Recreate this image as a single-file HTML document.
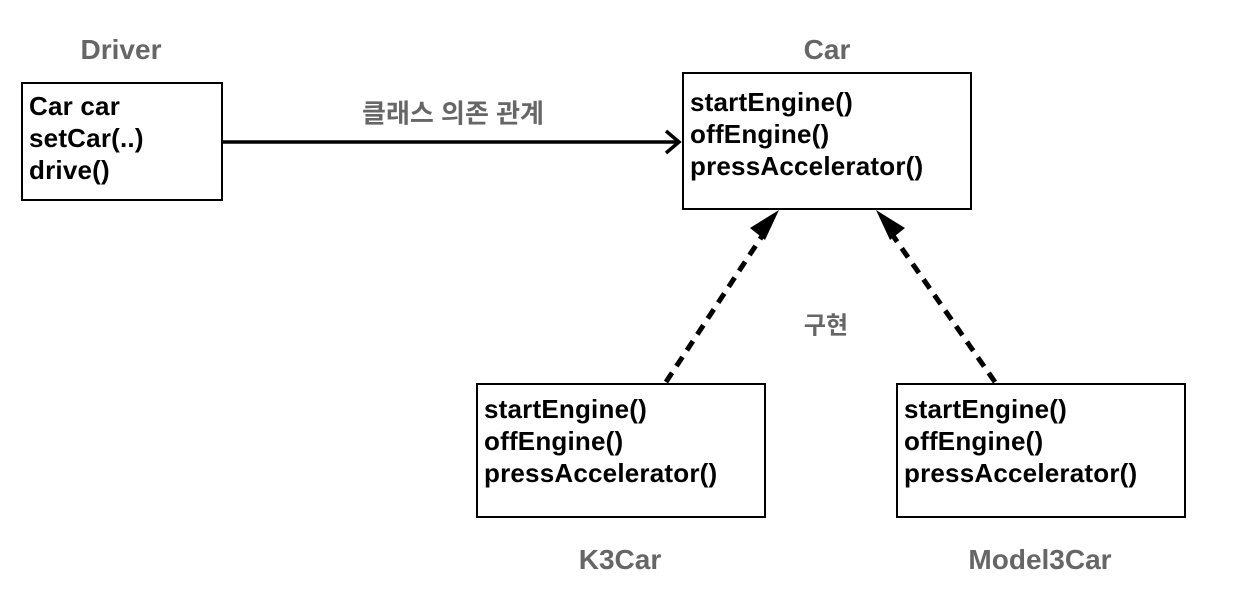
<!DOCTYPE html>
<html><head><meta charset="utf-8"><style>
body{margin:0;width:1254px;height:594px;background:#fff;position:relative;overflow:hidden;font-family:"Liberation Sans","Noto Sans CJK KR",sans-serif;}
.box{position:absolute;border:2px solid #000;box-sizing:border-box;padding:2px 0 0 6px;font-weight:bold;font-size:26px;line-height:32px;color:#000;letter-spacing:0.2px;white-space:nowrap}
.lbl{position:absolute;font-weight:bold;font-size:28px;color:#666;transform:translate(-50%,-50%);white-space:nowrap}
</style></head><body>
<div class="lbl" style="left:121px;top:50px">Driver</div>
<div class="lbl" style="left:827px;top:50px">Car</div>
<div class="lbl" style="left:453px;top:112px;font-size:26px">클래스 의존 관계</div>
<div class="lbl" style="left:826px;top:323px;font-size:24px">구현</div>
<div class="lbl" style="left:620px;top:560px">K3Car</div>
<div class="lbl" style="left:1040px;top:560px">Model3Car</div>
<div class="box" style="left:21px;top:82px;width:202px;height:119px;padding-top:6px">Car car<br>setCar(..)<br>drive()</div>
<div class="box" style="left:682px;top:72px;width:290px;height:138px;padding-top:12px">startEngine()<br>offEngine()<br>pressAccelerator()</div>
<div class="box" style="left:476px;top:383px;width:290px;height:135px;padding-top:8px">startEngine()<br>offEngine()<br>pressAccelerator()</div>
<div class="box" style="left:896px;top:383px;width:290px;height:135px;padding-top:8px">startEngine()<br>offEngine()<br>pressAccelerator()</div>
<svg width="1254" height="594" style="position:absolute;left:0;top:0">
<line x1="223" y1="142" x2="678" y2="142" stroke="#000" stroke-width="3.5"/>
<polyline points="666,131 679,142 666,153" fill="none" stroke="#000" stroke-width="3.5"/>
<line x1="666" y1="382" x2="766" y2="230" stroke="#000" stroke-width="5" stroke-dasharray="11,8"/>
<polygon points="779,210 765,240 750,228" fill="#000"/>
<line x1="995" y1="382" x2="889" y2="230" stroke="#000" stroke-width="5" stroke-dasharray="11,8"/>
<polygon points="876,210 890,240 905,228" fill="#000"/>
</svg>
</body></html>
